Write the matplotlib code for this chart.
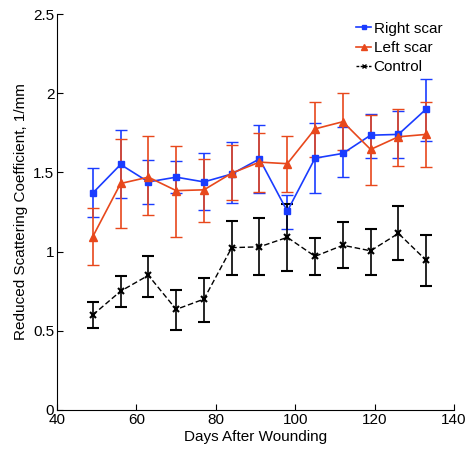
import matplotlib.pyplot as plt
from matplotlib.lines import Line2D
import numpy as np

plt.rcParams['font.family'] = ['Liberation Sans', 'DejaVu Sans']

days = np.array([49, 56, 63, 70, 77, 84, 91, 98, 105, 112, 119, 126, 133])

right = np.array([1.37, 1.55, 1.44, 1.47, 1.44, 1.49, 1.585, 1.255, 1.59, 1.62, 1.735, 1.74, 1.90])
right_lo = np.array([1.22, 1.34, 1.30, 1.37, 1.26, 1.31, 1.37, 1.14, 1.37, 1.47, 1.59, 1.59, 1.70])
right_hi = np.array([1.53, 1.765, 1.58, 1.57, 1.625, 1.69, 1.80, 1.36, 1.81, 1.785, 1.87, 1.89, 2.09])

left = np.array([1.095, 1.43, 1.47, 1.385, 1.39, 1.495, 1.565, 1.555, 1.775, 1.82, 1.645, 1.725, 1.74])
left_lo = np.array([0.915, 1.15, 1.23, 1.095, 1.185, 1.325, 1.375, 1.375, 1.60, 1.64, 1.42, 1.54, 1.535])
left_hi = np.array([1.275, 1.71, 1.73, 1.665, 1.585, 1.67, 1.75, 1.73, 1.945, 2.0, 1.86, 1.90, 1.945])

ctrl = np.array([0.60, 0.75, 0.85, 0.635, 0.70, 1.025, 1.03, 1.09, 0.97, 1.04, 1.005, 1.115, 0.945])
ctrl_lo = np.array([0.52, 0.65, 0.715, 0.505, 0.555, 0.85, 0.85, 0.88, 0.855, 0.895, 0.855, 0.945, 0.78])
ctrl_hi = np.array([0.68, 0.845, 0.97, 0.76, 0.835, 1.195, 1.21, 1.30, 1.085, 1.185, 1.145, 1.29, 1.105])

blue = '#1a3cff'
orange = '#e8481c'

fig = plt.figure(figsize=(4.68, 4.53), dpi=100)
ax = fig.add_axes([0.122, 0.095, 0.848, 0.874])

ax.errorbar(days, right, yerr=[right - right_lo, right_hi - right], color=blue,
            marker='s', ms=5, lw=1.2, capsize=4, elinewidth=1.2)
ax.errorbar(days, left, yerr=[left - left_lo, left_hi - left], color=orange,
            marker='^', ms=6, lw=1.2, capsize=4, elinewidth=1.2)
ax.errorbar(days, ctrl, yerr=[ctrl - ctrl_lo, ctrl_hi - ctrl], color='black',
            marker='x', ms=4, mew=1.5, lw=1.0, ls='--', dashes=(4, 2), capsize=4,
            elinewidth=1.2)

ax.set_xlim(40, 140)
ax.set_ylim(0, 2.5)
ax.set_xticks([40, 60, 80, 100, 120, 140])
ax.set_yticks([0, 0.5, 1, 1.5, 2, 2.5])
ax.set_yticklabels(['0', '0.5', '1', '1.5', '2', '2.5'])
ax.tick_params(direction='in', length=4, labelsize=11, pad=2)
ax.spines['top'].set_visible(False)
ax.spines['right'].set_visible(False)

ax.set_xlabel('Days After Wounding', fontsize=11, labelpad=2)
ax.set_ylabel('Reduced Scattering Coefficient, 1/mm', fontsize=11, labelpad=4)

# legend with plain line handles (no error bars), like the original
handles = [
    Line2D([], [], color=blue, marker='s', ms=3, lw=1.2),
    Line2D([], [], color=orange, marker='^', ms=4, lw=1.2),
    Line2D([], [], color='black', marker='x', ms=3, lw=1.0, ls='--', dashes=(2, 1)),
]
ax.legend(handles, ['Right scar', 'Left scar', 'Control'], loc='upper right',
          frameon=False, fontsize=11, handlelength=1.0, handletextpad=0.15,
          labelspacing=0.35, borderaxespad=0.1, bbox_to_anchor=(0.99, 1.0))

fig.savefig('out.png', dpi=100)
